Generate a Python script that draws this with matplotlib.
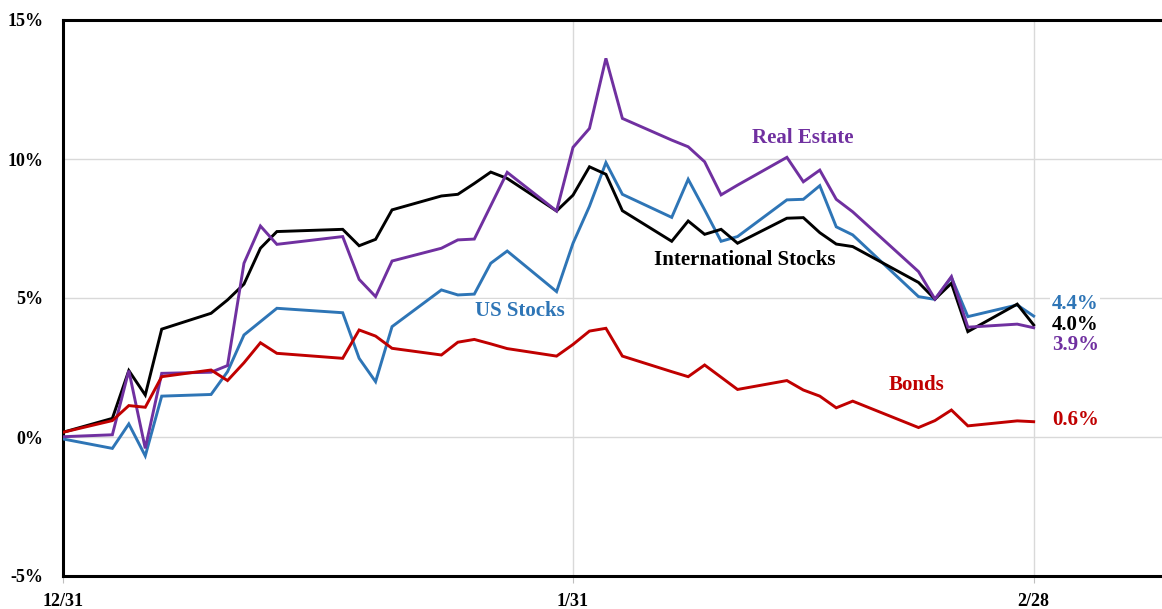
import matplotlib
matplotlib.use("Agg")
import matplotlib.pyplot as plt
import matplotlib.dates as mdates
from datetime import datetime, timedelta

dates = ["2016-12-31",
         "2017-01-03", "2017-01-04", "2017-01-05", "2017-01-06",
         "2017-01-09", "2017-01-10", "2017-01-11", "2017-01-12", "2017-01-13",
         "2017-01-17", "2017-01-18", "2017-01-19", "2017-01-20",
         "2017-01-23", "2017-01-24", "2017-01-25", "2017-01-26", "2017-01-27",
         "2017-01-30", "2017-01-31", "2017-02-01", "2017-02-02", "2017-02-03",
         "2017-02-06", "2017-02-07", "2017-02-08", "2017-02-09", "2017-02-10",
         "2017-02-13", "2017-02-14", "2017-02-15", "2017-02-16", "2017-02-17",
         "2017-02-21", "2017-02-22", "2017-02-23", "2017-02-24",
         "2017-02-27", "2017-02-28"]

us_stocks = [-0.07, -0.41, 0.47, -0.68, 1.47,
             1.53, 2.35, 3.67, 4.15, 4.63,
             4.47, 2.83, 1.99, 3.97,
             5.29, 5.11, 5.14, 6.25, 6.69,
             5.23, 6.97, 8.30, 9.87, 8.73,
             7.90, 9.27, 8.17, 7.04, 7.21,
             8.53, 8.55, 9.04, 7.56, 7.27,
             5.05, 4.95, 5.74, 4.33,
             4.75, 4.35]

intl_stocks = [0.17, 0.67, 2.39, 1.51, 3.88,
               4.45, 4.93, 5.50, 6.79, 7.39,
               7.47, 6.88, 7.11, 8.17,
               8.67, 8.73, 9.12, 9.53, 9.30,
               8.13, 8.70, 9.72, 9.45, 8.14,
               7.04, 7.77, 7.29, 7.47, 6.97,
               7.87, 7.89, 7.35, 6.94, 6.85,
               5.56, 4.96, 5.53, 3.79,
               4.78, 4.03]

real_estate = [0.01, 0.08, 2.39, -0.41, 2.29,
               2.33, 2.57, 6.25, 7.59, 6.93,
               7.21, 5.67, 5.05, 6.33,
               6.79, 7.09, 7.12, 8.32, 9.52,
               8.13, 10.42, 11.10, 13.62, 11.46,
               10.68, 10.44, 9.90, 8.71, 9.06,
               10.06, 9.18, 9.60, 8.55, 8.10,
               5.95, 4.96, 5.77, 3.95,
               4.06, 3.93]

bonds = [0.17, 0.59, 1.13, 1.07, 2.17,
         2.41, 2.03, 2.67, 3.39, 3.01,
         2.83, 3.85, 3.63, 3.19,
         2.95, 3.41, 3.51, 3.35, 3.18,
         2.91, 3.33, 3.81, 3.91, 2.91,
         2.35, 2.17, 2.59, 2.15, 1.71,
         2.03, 1.69, 1.47, 1.05, 1.29,
         0.34, 0.59, 0.97, 0.40,
         0.58, 0.55]

series_names = ["US Stocks", "International Stocks", "Real Estate", "Bonds"]
end_labels = ["4.4%", "4.0%", "3.9%", "0.6%"]
x_tick_dates = ["2016-12-31", "2017-01-31", "2017-02-28"]
x_tick_labels = ["12/31", "1/31", "2/28"]
y_ticks = [-5, 0, 5, 10, 15]
y_tick_labels = ["-5%", "0%", "5%", "10%", "15%"]

BLUE = "#2E75B6"
BLACK = "#000000"
PURPLE = "#7030A0"
RED = "#C00000"
colors = [BLUE, BLACK, PURPLE, RED]

FONT = ["Liberation Serif", "DejaVu Serif"]
plt.rcParams["font.family"] = FONT

x = [datetime.strptime(d, "%Y-%m-%d") for d in dates]
base = x[0]

fig = plt.figure(figsize=(11.62, 6.09), dpi=100)
ax = fig.add_axes([63 / 1162, 1 - 576 / 609, 1 - 63 / 1162, (576 - 20) / 609])

for vals, c in zip([us_stocks, intl_stocks, real_estate, bonds], colors):
    ax.plot(x, vals, color=c, lw=2.1, zorder=3, solid_joinstyle="miter")

ax.set_ylim(-5, 15)
ax.set_xlim(base, base + timedelta(days=66.8))
ax.set_yticks(y_ticks)
ax.set_yticklabels(y_tick_labels)
ax.set_xticks([datetime.strptime(d, "%Y-%m-%d") for d in x_tick_dates])
ax.set_xticklabels(x_tick_labels)

ax.grid(True, color="#d9d9d9", lw=1.0, zorder=0)
ax.set_axisbelow(True)
for s in ["left", "top", "bottom"]:
    ax.spines[s].set_linewidth(2.2)
    ax.spines[s].set_color("black")
ax.spines["right"].set_visible(False)

ax.tick_params(axis="y", length=0, pad=14, labelsize=13)
ax.tick_params(axis="x", length=5, width=0.8, color="#bfbfbf", pad=7, labelsize=13)
for lab in ax.get_xticklabels() + ax.get_yticklabels():
    lab.set_fontweight("bold")

# series name labels
name_pos = [(27.75, 4.55), (41.46, 6.35), (44.98, 10.77), (51.85, 1.87)]
for name, (dx, yv), c in zip(series_names, name_pos, colors):
    ax.text(base + timedelta(days=dx), yv, name, color=c, fontsize=15,
            fontweight="bold", ha="center", va="center", zorder=2,
            bbox=dict(facecolor="white", edgecolor="none", pad=1))

# end value labels
end_y = [4.80, 4.04, 3.30, 0.61]
for lab, yv, c in zip(end_labels, end_y, colors):
    ax.text(base + timedelta(days=60.1), yv, lab, color=c, fontsize=15,
            fontweight="bold", ha="left", va="center", zorder=2,
            bbox=dict(facecolor="white", edgecolor="none", pad=1))

fig.savefig("out.png", dpi=100)
